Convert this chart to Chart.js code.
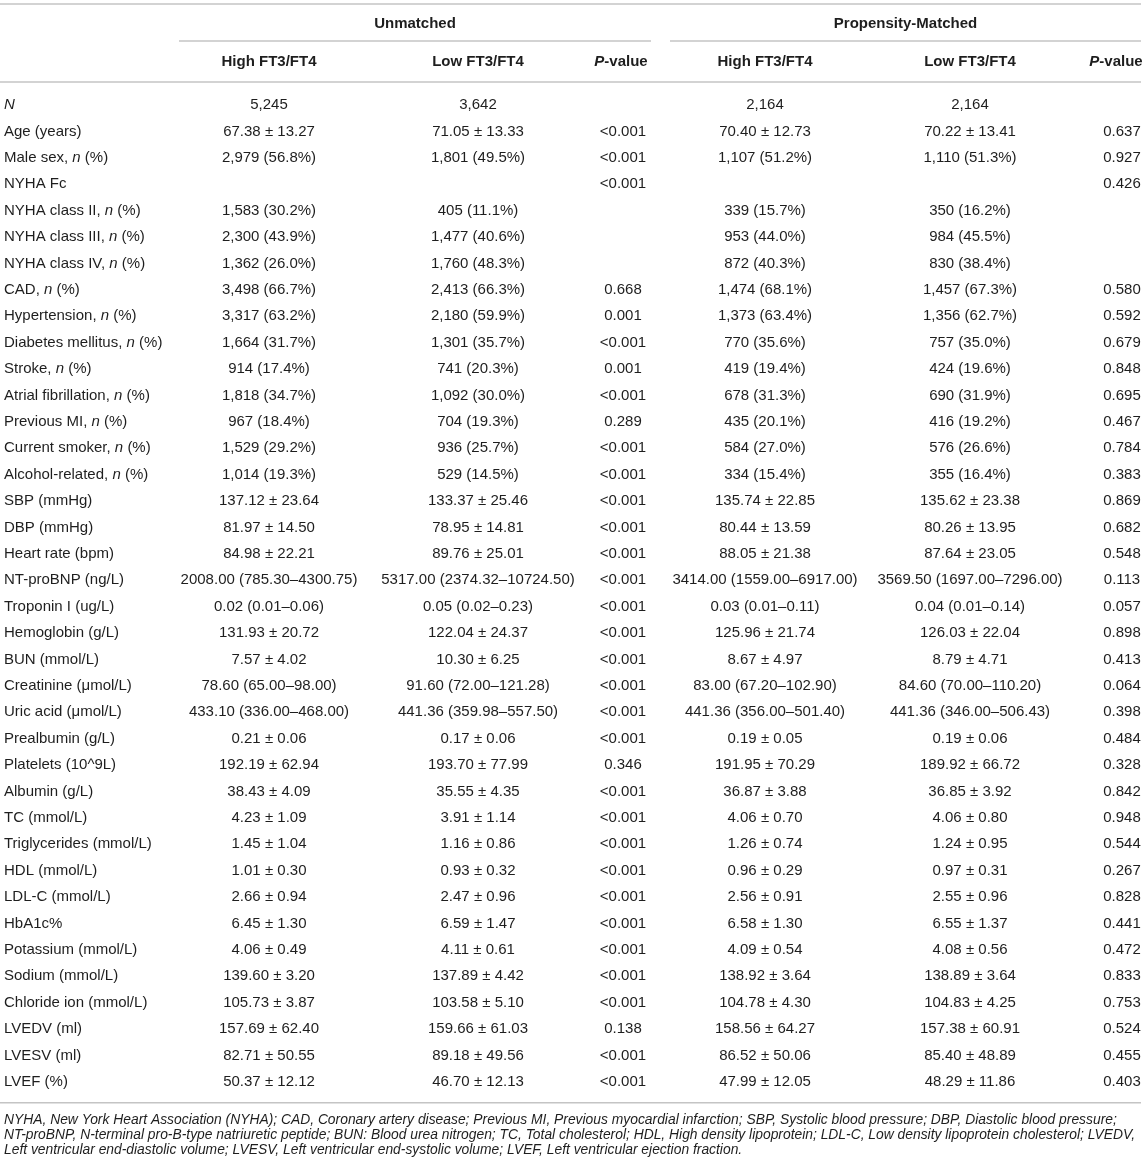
<!DOCTYPE html>
<html>
<head>
<meta charset="utf-8">
<script src="https://cdn.jsdelivr.net/npm/chart.js@4/dist/chart.umd.min.js"></script>
<style>
  html, body { margin: 0; padding: 0; background: #fff; }
  #wrap { position: relative; width: 1145px; height: 1172px; }
</style>
</head>
<body>
<div id="wrap"><canvas id="tableChart"></canvas></div>
<script>
// row labels, _x_ marks italic text
const rowLabels = [
  '_N_', 'Age (years)', 'Male sex, _n_ (%)', 'NYHA Fc',
  'NYHA class II, _n_ (%)', 'NYHA class III, _n_ (%)', 'NYHA class IV, _n_ (%)',
  'CAD, _n_ (%)', 'Hypertension, _n_ (%)', 'Diabetes mellitus, _n_ (%)', 'Stroke, _n_ (%)',
  'Atrial fibrillation, _n_ (%)', 'Previous MI, _n_ (%)', 'Current smoker, _n_ (%)',
  'Alcohol-related, _n_ (%)', 'SBP (mmHg)', 'DBP (mmHg)', 'Heart rate (bpm)',
  'NT-proBNP (ng/L)', 'Troponin I (ug/L)', 'Hemoglobin (g/L)', 'BUN (mmol/L)',
  'Creatinine (μmol/L)', 'Uric acid (μmol/L)', 'Prealbumin (g/L)', 'Platelets (10^9L)',
  'Albumin (g/L)', 'TC (mmol/L)', 'Triglycerides (mmol/L)', 'HDL (mmol/L)',
  'LDL-C (mmol/L)', 'HbA1c%', 'Potassium (mmol/L)', 'Sodium (mmol/L)',
  'Chloride ion (mmol/L)', 'LVEDV (ml)', 'LVESV (ml)', 'LVEF (%)'
];

const unmatchedHigh = [
  '5,245', '67.38 ± 13.27', '2,979 (56.8%)', '', '1,583 (30.2%)', '2,300 (43.9%)', '1,362 (26.0%)',
  '3,498 (66.7%)', '3,317 (63.2%)', '1,664 (31.7%)', '914 (17.4%)', '1,818 (34.7%)', '967 (18.4%)',
  '1,529 (29.2%)', '1,014 (19.3%)', '137.12 ± 23.64', '81.97 ± 14.50', '84.98 ± 22.21',
  '2008.00 (785.30–4300.75)', '0.02 (0.01–0.06)', '131.93 ± 20.72', '7.57 ± 4.02',
  '78.60 (65.00–98.00)', '433.10 (336.00–468.00)', '0.21 ± 0.06', '192.19 ± 62.94',
  '38.43 ± 4.09', '4.23 ± 1.09', '1.45 ± 1.04', '1.01 ± 0.30', '2.66 ± 0.94', '6.45 ± 1.30',
  '4.06 ± 0.49', '139.60 ± 3.20', '105.73 ± 3.87', '157.69 ± 62.40', '82.71 ± 50.55', '50.37 ± 12.12'
];

const unmatchedLow = [
  '3,642', '71.05 ± 13.33', '1,801 (49.5%)', '', '405 (11.1%)', '1,477 (40.6%)', '1,760 (48.3%)',
  '2,413 (66.3%)', '2,180 (59.9%)', '1,301 (35.7%)', '741 (20.3%)', '1,092 (30.0%)', '704 (19.3%)',
  '936 (25.7%)', '529 (14.5%)', '133.37 ± 25.46', '78.95 ± 14.81', '89.76 ± 25.01',
  '5317.00 (2374.32–10724.50)', '0.05 (0.02–0.23)', '122.04 ± 24.37', '10.30 ± 6.25',
  '91.60 (72.00–121.28)', '441.36 (359.98–557.50)', '0.17 ± 0.06', '193.70 ± 77.99',
  '35.55 ± 4.35', '3.91 ± 1.14', '1.16 ± 0.86', '0.93 ± 0.32', '2.47 ± 0.96', '6.59 ± 1.47',
  '4.11 ± 0.61', '137.89 ± 4.42', '103.58 ± 5.10', '159.66 ± 61.03', '89.18 ± 49.56', '46.70 ± 12.13'
];

const unmatchedP = [
  '', '<0.001', '<0.001', '<0.001', '', '', '',
  '0.668', '0.001', '<0.001', '0.001', '<0.001', '0.289',
  '<0.001', '<0.001', '<0.001', '<0.001', '<0.001',
  '<0.001', '<0.001', '<0.001', '<0.001',
  '<0.001', '<0.001', '<0.001', '0.346',
  '<0.001', '<0.001', '<0.001', '<0.001', '<0.001', '<0.001',
  '<0.001', '<0.001', '<0.001', '0.138', '<0.001', '<0.001'
];

const matchedHigh = [
  '2,164', '70.40 ± 12.73', '1,107 (51.2%)', '', '339 (15.7%)', '953 (44.0%)', '872 (40.3%)',
  '1,474 (68.1%)', '1,373 (63.4%)', '770 (35.6%)', '419 (19.4%)', '678 (31.3%)', '435 (20.1%)',
  '584 (27.0%)', '334 (15.4%)', '135.74 ± 22.85', '80.44 ± 13.59', '88.05 ± 21.38',
  '3414.00 (1559.00–6917.00)', '0.03 (0.01–0.11)', '125.96 ± 21.74', '8.67 ± 4.97',
  '83.00 (67.20–102.90)', '441.36 (356.00–501.40)', '0.19 ± 0.05', '191.95 ± 70.29',
  '36.87 ± 3.88', '4.06 ± 0.70', '1.26 ± 0.74', '0.96 ± 0.29', '2.56 ± 0.91', '6.58 ± 1.30',
  '4.09 ± 0.54', '138.92 ± 3.64', '104.78 ± 4.30', '158.56 ± 64.27', '86.52 ± 50.06', '47.99 ± 12.05'
];

const matchedLow = [
  '2,164', '70.22 ± 13.41', '1,110 (51.3%)', '', '350 (16.2%)', '984 (45.5%)', '830 (38.4%)',
  '1,457 (67.3%)', '1,356 (62.7%)', '757 (35.0%)', '424 (19.6%)', '690 (31.9%)', '416 (19.2%)',
  '576 (26.6%)', '355 (16.4%)', '135.62 ± 23.38', '80.26 ± 13.95', '87.64 ± 23.05',
  '3569.50 (1697.00–7296.00)', '0.04 (0.01–0.14)', '126.03 ± 22.04', '8.79 ± 4.71',
  '84.60 (70.00–110.20)', '441.36 (346.00–506.43)', '0.19 ± 0.06', '189.92 ± 66.72',
  '36.85 ± 3.92', '4.06 ± 0.80', '1.24 ± 0.95', '0.97 ± 0.31', '2.55 ± 0.96', '6.55 ± 1.37',
  '4.08 ± 0.56', '138.89 ± 3.64', '104.83 ± 4.25', '157.38 ± 60.91', '85.40 ± 48.89', '48.29 ± 11.86'
];

const matchedP = [
  '', '0.637', '0.927', '0.426', '', '', '',
  '0.580', '0.592', '0.679', '0.848', '0.695', '0.467',
  '0.784', '0.383', '0.869', '0.682', '0.548',
  '0.113', '0.057', '0.898', '0.413',
  '0.064', '0.398', '0.484', '0.328',
  '0.842', '0.948', '0.544', '0.267', '0.828', '0.441',
  '0.472', '0.833', '0.753', '0.524', '0.455', '0.403'
];

const groupTitles = ['Unmatched', 'Propensity-Matched'];
const columnTitles = ['High FT3/FT4', 'Low FT3/FT4', '_P_-value', 'High FT3/FT4', 'Low FT3/FT4', '_P_-value'];

const footnoteLines = [
  'NYHA, New York Heart Association (NYHA); CAD, Coronary artery disease; Previous MI, Previous myocardial infarction; SBP, Systolic blood pressure; DBP, Diastolic blood pressure;',
  'NT-proBNP, N-terminal pro-B-type natriuretic peptide; BUN: Blood urea nitrogen; TC, Total cholesterol; HDL, High density lipoprotein; LDL-C, Low density lipoprotein cholesterol; LVEDV,',
  'Left ventricular end-diastolic volume; LVESV, Left ventricular end-systolic volume; LVEF, Left ventricular ejection fraction.'
];

// layout, in x-scale units (= pixels here)
const FONT = '"Liberation Sans", Arial, Helvetica, sans-serif';
const FONT_SIZE = 15;
const TEXT_COLOR = '#1e1e1e';
const RULE_COLOR = '#c4c4c4';
const labelX = 4;
const colCenters = [269, 478, 623, 765, 970, 1122];
const headCenters = [269, 478, 621, 765, 970, 1116];
const groupSpans = [[179, 651], [670, 1141]];

const columns = [unmatchedHigh, unmatchedLow, unmatchedP, matchedHigh, matchedLow, matchedP];

// footnote font size fitted to the first line width
const footSize = (() => {
  const c = document.createElement('canvas').getContext('2d');
  c.font = 'italic 12px ' + FONT;
  return 12 * 1114 / c.measureText(footnoteLines[0]).width;
})();

function drawRich(ctx, str, x, y, align, weight) {
  const parts = str.split('_');
  const fontFor = i => (i % 2 ? 'italic ' : '') + weight + ' ' + FONT_SIZE + 'px ' + FONT;
  let total = 0;
  parts.forEach((p, i) => { ctx.font = fontFor(i); total += ctx.measureText(p).width; });
  let cx = align === 'center' ? x - total / 2 : x;
  ctx.textAlign = 'left';
  ctx.textBaseline = 'middle';
  parts.forEach((p, i) => {
    ctx.font = fontFor(i);
    ctx.fillText(p, cx, y);
    cx += ctx.measureText(p).width;
  });
}

function rule(ctx, x1, x2, y) {
  ctx.beginPath();
  ctx.moveTo(x1, y);
  ctx.lineTo(x2, y);
  ctx.stroke();
}

const tablePlugin = {
  id: 'tableText',
  afterDraw(chart) {
    const ctx = chart.ctx;
    const xs = chart.scales.x, ys = chart.scales.y;
    const firstY = ys.getPixelForValue(0);
    const lastY = ys.getPixelForValue(rowLabels.length - 1);
    const right = xs.getPixelForValue(xs.max);
    ctx.save();
    ctx.fillStyle = TEXT_COLOR;
    ctx.strokeStyle = RULE_COLOR;
    ctx.lineWidth = 1.6;

    // rules
    rule(ctx, 0, right, firstY - 101);
    groupSpans.forEach(s => rule(ctx, xs.getPixelForValue(s[0]), xs.getPixelForValue(s[1]), firstY - 64));
    rule(ctx, 0, right, firstY - 23);
    rule(ctx, 0, right, lastY + 21);

    // headers
    groupTitles.forEach((t, i) => {
      const mid = (xs.getPixelForValue(groupSpans[i][0]) + xs.getPixelForValue(groupSpans[i][1])) / 2;
      drawRich(ctx, t, mid, firstY - 81, 'center', 'bold');
    });
    columnTitles.forEach((t, i) => drawRich(ctx, t, xs.getPixelForValue(headCenters[i]), firstY - 43, 'center', 'bold'));

    // row labels
    rowLabels.forEach((lab, i) => drawRich(ctx, lab, xs.getPixelForValue(labelX), ys.getPixelForValue(i), 'left', 'normal'));

    // cells
    chart.data.datasets.forEach((ds, di) => {
      chart.getDatasetMeta(di).data.forEach((pt, i) => {
        const txt = ds.cellText[i];
        if (txt) drawRich(ctx, txt, pt.x, pt.y, 'center', 'normal');
      });
    });
    ctx.restore();
  }
};

Chart.defaults.font.family = FONT;
Chart.defaults.color = TEXT_COLOR;

const datasets = columns.map((col, c) => ({
  label: columnTitles[c],
  cellText: col,
  data: col.map((_, i) => ({ x: colCenters[c], y: i })),
  pointRadius: 0,
  pointHoverRadius: 0
}));

new Chart(document.getElementById('tableChart'), {
  type: 'scatter',
  data: { datasets: datasets },
  options: {
    responsive: true,
    maintainAspectRatio: false,
    animation: false,
    events: [],
    layout: { padding: { top: 91.8, left: 4, right: 4, bottom: 0 } },
    scales: {
      x: { type: 'linear', min: 4, max: 1141, display: false },
      y: { type: 'category', labels: rowLabels, offset: true, display: false }
    },
    plugins: {
      legend: { display: false },
      tooltip: { enabled: false },
      title: {
        display: true,
        position: 'bottom',
        align: 'start',
        text: footnoteLines,
        color: TEXT_COLOR,
        font: { family: FONT, size: footSize, style: 'italic', weight: 'normal', lineHeight: 14.6 / footSize },
        padding: { top: 18.3, bottom: 14.9 }
      }
    }
  },
  plugins: [tablePlugin]
});
</script>
</body>
</html>
